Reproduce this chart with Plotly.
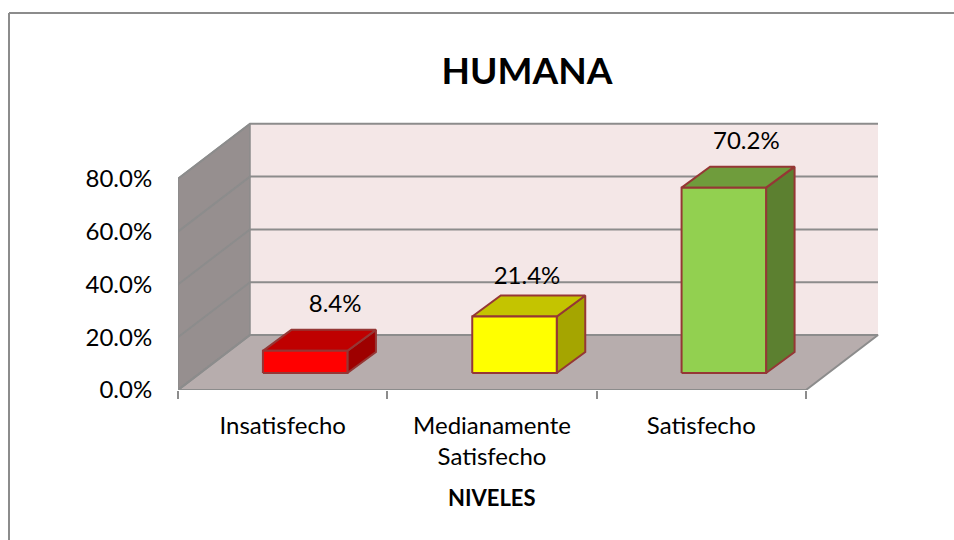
import plotly.graph_objects as go

CATEGORIAS = ["Insatisfecho", "Medianamente<br>Satisfecho", "Satisfecho"]
VALORES = [8.4, 21.4, 70.2]
ETIQUETAS = ["8.4%", "21.4%", "70.2%"]
Y_TICKS = [0, 20, 40, 60, 80]
Y_TICK_LABELS = ["0.0%", "20.0%", "40.0%", "60.0%", "80.0%"]
COLOR_FRENTE = ["#FF0000", "#FFFF00", "#92D050"]
COLOR_TOPE = ["#BF0000", "#C4C400", "#6F9C3C"]
COLOR_LADO = ["#9E0000", "#A5A500", "#5C8030"]
# ajuste de cada etiqueta (px), como quedo en Excel
ETIQUETA_DX = [30, 12.5, 22.5]
ETIQUETA_DY = [24, 18, 24]

W, H = 954, 540
L, R, T, B = 178, 879, 110, 390
PX_X = 209.33  # px por categoria
PX_Y = 2.64  # px por punto porcentual


def dx(px):
    return px / PX_X


def dy(px):
    return px / PX_Y


PROF_X, PROF_Y = dx(72), dy(55)
BARRA_W, BARRA_OFF = dx(84.5), dx(22.5)
BARRA_PX, BARRA_PY = dx(28.5), dy(21)
BARRA_BASE = dy(17)
N = len(CATEGORIAS)


def poligono(xs, ys, relleno, linea, ancho=2):
    return go.Scatter(
        x=xs + xs[:1],
        y=ys + ys[:1],
        mode="lines",
        fill="toself",
        fillcolor=relleno,
        line=dict(color=linea, width=ancho),
        hoverinfo="skip",
        cliponaxis=False,
        showlegend=False,
    )


def linea(xs, ys, color="#8C8C8C", ancho=2):
    return go.Scatter(
        x=xs, y=ys, mode="lines",
        line=dict(color=color, width=ancho),
        hoverinfo="skip", cliponaxis=False, showlegend=False,
    )


fig = go.Figure()

# paredes y piso
fig.add_trace(poligono([PROF_X, PROF_X + N, PROF_X + N, PROF_X],
                       [PROF_Y, PROF_Y, PROF_Y + 80, PROF_Y + 80], "#F4E7E7", "#F4E7E7", 0))
fig.add_trace(poligono([0, PROF_X, PROF_X, 0],
                       [0, PROF_Y, PROF_Y + 80, 80], "#968F8F", "#8C8C8C", 1.5))
fig.add_trace(poligono([0, N, N + PROF_X, PROF_X],
                       [0, 0, PROF_Y, PROF_Y], "#B7ADAD", "#8C8C8C"))
for t in Y_TICKS:
    fig.add_trace(linea([0, PROF_X, N + PROF_X], [t, t + PROF_Y, t + PROF_Y]))

# barras
ROJO = "#953735"
for i, v in enumerate(VALORES):
    x0 = i + 0.5 + BARRA_OFF - BARRA_W / 2
    x1 = x0 + BARRA_W
    y0 = BARRA_BASE
    y1 = y0 + v
    fig.add_trace(poligono([x1, x1 + BARRA_PX, x1 + BARRA_PX, x1],
                           [y0, y0 + BARRA_PY, y1 + BARRA_PY, y1], COLOR_LADO[i], ROJO))
    fig.add_trace(poligono([x0, x1, x1 + BARRA_PX, x0 + BARRA_PX],
                           [y1, y1, y1 + BARRA_PY, y1 + BARRA_PY], COLOR_TOPE[i], ROJO))
    fig.add_trace(poligono([x0, x1, x1, x0], [y0, y0, y1, y1], COLOR_FRENTE[i], ROJO))

fig.add_trace(go.Scatter(
    x=[i + 0.5 + BARRA_OFF + dx(ETIQUETA_DX[i]) for i in range(N)],
    y=[BARRA_BASE + v + BARRA_PY + dy(ETIQUETA_DY[i]) for i, v in enumerate(VALORES)],
    mode="text",
    text=ETIQUETAS,
    textposition="middle center",
    textfont=dict(size=24, color="#000000"),
    cliponaxis=False,
    hoverinfo="skip",
    showlegend=False,
))

ANCHO_PLOT = R - L
ALTO_PLOT = B - T


def paper_x(px):
    return (px - L) / ANCHO_PLOT


def paper_y(px):
    return (B - px) / ALTO_PLOT


# marco del grafico, solo se ve izquierda y arriba
MARCO = dict(type="line", xref="paper", yref="paper", line=dict(color="#8C8C8C", width=2))
fig.add_shape(x0=paper_x(9), x1=paper_x(9), y0=paper_y(13), y1=paper_y(H), **MARCO)
fig.add_shape(x0=paper_x(9), x1=paper_x(W), y0=paper_y(13), y1=paper_y(13), **MARCO)

fig.add_annotation(
    text="<b>NIVELES</b>", xref="paper", yref="paper",
    x=paper_x(492), y=paper_y(497), xanchor="center", yanchor="middle", showarrow=False,
    font=dict(size=22, color="#000000"),
)

fig.update_layout(
    width=W,
    height=H,
    margin=dict(l=L, r=W - R, t=T, b=H - B, autoexpand=False),
    paper_bgcolor="#FFFFFF",
    plot_bgcolor="rgba(0,0,0,0)",
    font=dict(family="Lato, Carlito, Calibri, sans-serif", color="#000000"),
    title=dict(
        text="<b>HUMANA</b>", x=527 / W, xanchor="center",
        y=1 - 71 / H, yanchor="middle", font=dict(size=37, color="#000000"),
    ),
    showlegend=False,
    xaxis=dict(
        range=[0, ANCHO_PLOT / PX_X],
        tickmode="array",
        tickvals=[i + 0.5 for i in range(N)],
        ticktext=CATEGORIAS,
        ticks="outside", ticklen=14, tickcolor="rgba(0,0,0,0)",
        tickfont=dict(size=24),
        minor=dict(tickmode="array", tickvals=list(range(N + 1)), ticks="outside",
                   ticklen=8, tickcolor="#8C8C8C", tickwidth=1.5),
        showgrid=False, zeroline=False, showline=False,
    ),
    yaxis=dict(
        range=[0, ALTO_PLOT / PX_Y],
        tickmode="array",
        tickvals=Y_TICKS,
        ticktext=Y_TICK_LABELS,
        ticks="outside", ticklen=20, tickcolor="rgba(0,0,0,0)",
        tickfont=dict(size=24),
        showgrid=False, zeroline=False, showline=False,
    ),
)

# sin el margen por defecto del body para que el grafico llene la ventana
fig.write_html("out.html", config={"displayModeBar": False},
               post_script="document.body.style.margin='0';")
